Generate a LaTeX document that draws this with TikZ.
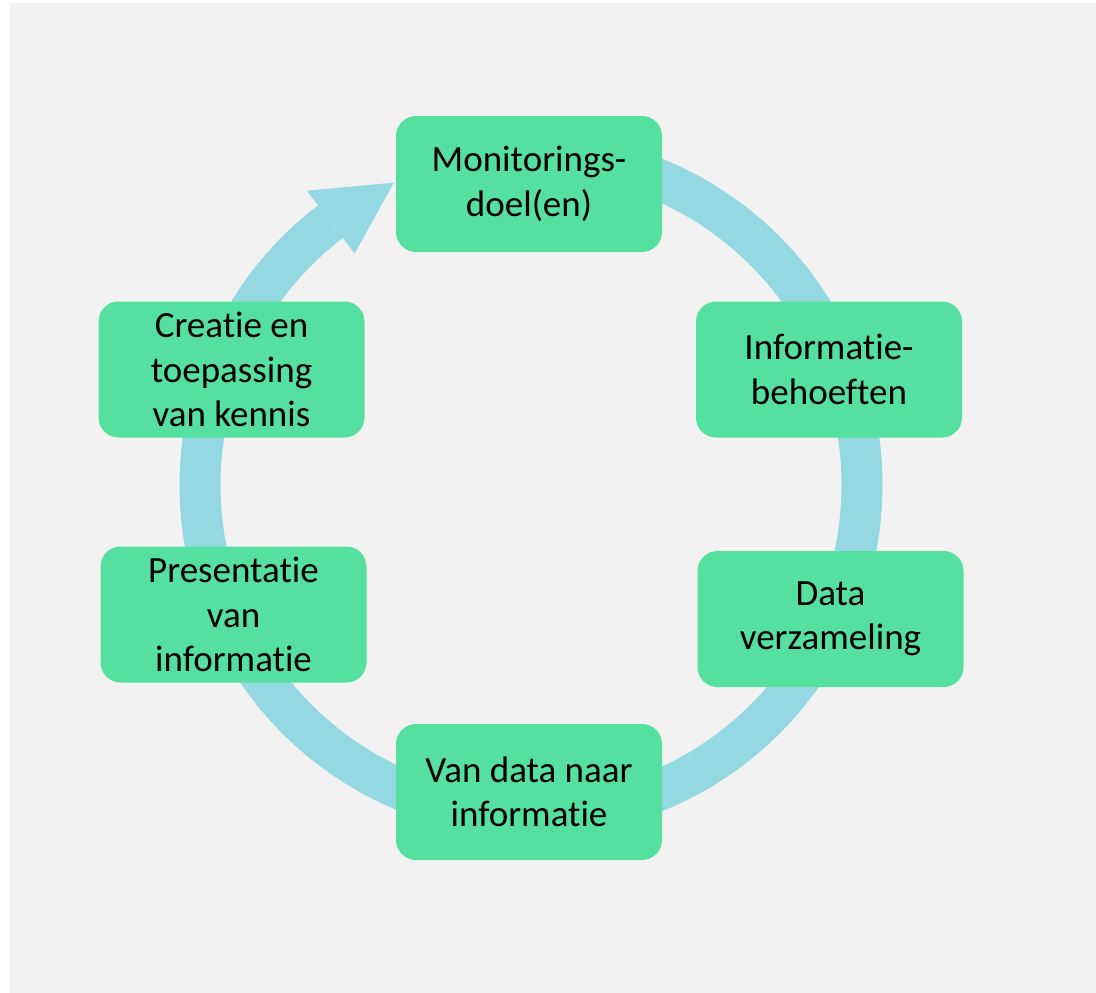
\documentclass[tikz,border=0pt]{standalone}
\usepackage{fontspec}
\setmainfont[Ligatures={NoCommon}]{Carlito}
\definecolor{bggray}{HTML}{F2F2F2}
\definecolor{boxgreen}{HTML}{55E0A0}
\definecolor{ringblue}{HTML}{94D9E2}
\tikzset{
  stapbox/.style={fill=boxgreen,rounded corners=20pt,minimum width=266pt,minimum height=136pt,
    align=center,inner sep=0pt,font=\fontsize{37}{44.5}\selectfont},
  ring/.style={draw=ringblue,line width=41pt}
}

\begin{document}
\begin{tikzpicture}[x=1pt,y=-1pt]
        \useasboundingbox (0,0) rectangle (1096,993);
        \fill[bggray] (9,3) rectangle (1096,993);

        \coordinate (mid) at (531,485);

        % the cycle ring, clockwise
        \draw[ring] ([shift={(-90:331)}]mid) arc[start angle=-90,end angle=232.7,radius=331];

        % arrow head pointing at the first box
        \fill[ringblue] ([shift={(232.7:291)}]mid) -- ([shift={(232.7:370)}]mid)
              -- ([shift={(245.6:332)}]mid) -- cycle;

        \node[stapbox] (doel) at (529,184) {Monitorings-\\doel(en)};
        \node[stapbox] (behoefte) at (829,369.5) {Informatie-\\behoeften};
        \node[stapbox] (data) at (830.5,619) {Data\\verzameling};
        \node[stapbox] (info) at (529,792) {Van data naar\\informatie};
        \node[stapbox] (presentatie) at (233.5,614.5) {Presentatie\\van\\informatie};
        \node[stapbox] (kennis) at (231.5,369.5) {Creatie en\\toepassing\\van kennis};

\end{tikzpicture}
\end{document}
